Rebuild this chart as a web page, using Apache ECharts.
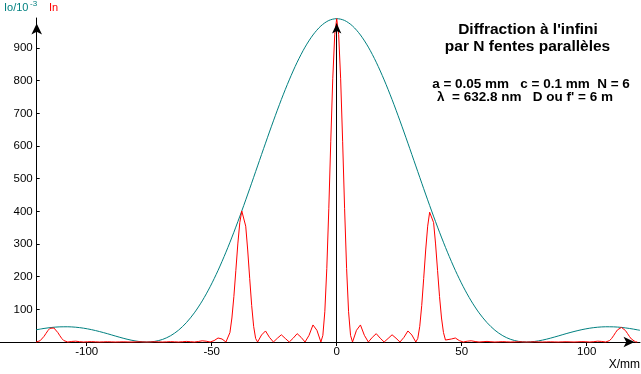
<!DOCTYPE html>
<html><head><meta charset="utf-8">
<script src="https://cdn.jsdelivr.net/npm/echarts@6/dist/echarts.min.js"></script>
<style>html,body{margin:0;padding:0;background:#fff}#c{width:641px;height:374px}</style>
</head><body><div id="c"></div>
<script>
// X positions (mm) and intensity In (red curve)
const xIn = [
 -120.24,-119.45,-118.65,-117.86,-117.07,-116.28,-115.49,-114.70,-113.90,-113.12,-112.32,-111.53,-110.74,-109.95,-109.16,-108.37,-107.58,
 -105.99,-104.41,-102.83,-101.25,-99.67,-98.08,-96.50,-94.92,-93.34,-91.76,-90.17,-88.59,-87.01,-85.43,-83.85,-82.26,-80.68,-79.10,-77.52,
 -75.94,-74.35,-72.77,-71.19,-69.61,-68.03,-66.44,-64.86,-63.28,-61.70,-60.12,-58.54,-56.95,-55.37,-53.79,-52.21,-50.62,-49.04,-47.46,-45.88,
 -44.30,-43.51,-42.71,-41.92,-41.13,-40.34,-39.55,-38.76,-37.97,-37.18,-36.39,-35.60,-34.80,-34.01,-33.22,-32.43,-31.64,
 -30.06,-28.48,-26.89,-25.31,-23.73,-22.15,-20.57,-18.98,-17.40,-15.82,-14.24,-12.66,-11.07,-9.49,-7.91,
 -6.33,-5.54,-4.75,-3.96,-3.16,-2.37,-1.58,-0.79,
 0,
 0.79,1.58,2.37,3.16,3.96,4.75,5.54,6.33,
 7.91,9.49,11.07,12.66,14.24,15.82,17.40,18.98,20.57,22.15,23.73,25.31,26.89,28.48,30.06,
 31.64,32.43,33.22,34.01,34.80,35.60,36.39,37.18,37.97,38.76,39.55,40.34,41.13,41.92,42.71,43.51,44.30,
 45.88,47.46,49.04,50.62,52.21,53.79,55.37,56.95,58.54,60.12,61.70,63.28,64.86,66.44,68.03,69.61,71.19,72.77,74.35,75.94,
 77.52,79.10,80.68,82.26,83.85,85.43,87.01,88.59,90.17,91.76,93.34,94.92,96.50,98.08,99.67,101.25,102.83,104.41,105.99,
 107.58,108.37,109.16,109.95,110.74,111.53,112.32,113.12,113.90,114.70,115.49,116.28,117.07,117.86,118.65,119.45,120.24
];
const In = [
 0,0.8,3.8,9.3,17.2,26.4,35.2,41.8,44.6,42.9,37.2,28.7,19.2,10.7,4.4,1.0,0,
 1.7,2.5,1.0,0,0.7,1.1,0.5,0,0.4,0.8,0.4,0,0.3,0.6,0.3,0,0.3,0.7,0.3,
 0,0.4,0.8,0.4,0,0.5,1.1,0.6,0,0.8,1.8,1.0,0,1.5,3.7,2.4,0,4.3,12.2,9.2,
 0,6.0,28.9,73.5,139.4,219.3,300.2,365.6,401.2,397.4,354.6,281.7,194.6,111.7,47.8,10.8,0,
 21.5,33.8,14.2,0,11.6,22.1,10.9,0,11.7,25.5,14.3,0,20.4,52.2,35.8,
 0,20.2,92.7,225.2,408.2,614.7,805.9,940.8,
 990,
 940.8,805.9,614.7,408.2,225.2,92.7,20.2,0,
 35.8,52.2,20.4,0,14.3,25.5,11.7,0,10.9,22.1,11.6,0,14.2,33.8,21.5,
 0,10.8,47.8,111.7,194.6,281.7,354.6,397.4,401.2,365.6,300.2,219.3,139.4,73.5,28.9,6.0,0,
 9.2,12.2,4.3,0,2.4,3.7,1.5,0,1.0,1.8,0.8,0,0.6,1.1,0.5,0,0.4,0.8,0.4,0,
 0.3,0.7,0.3,0,0.3,0.6,0.3,0,0.4,0.8,0.4,0,0.5,1.1,0.7,0,1.0,2.5,1.7,
 0,1.0,4.4,10.7,19.2,28.7,37.2,42.9,44.6,41.8,35.2,26.4,17.2,9.3,3.8,0.8,0
];
// Envelope Io/10^-3 (teal curve)
const xIo = [
 -120.24,-117.07,-113.90,-110.74,-107.58,-104.41,-101.25,-98.08,-94.92,-91.76,-88.59,-85.43,-82.26,-79.10,
 -75.94,-72.77,-69.61,-66.44,-63.28,-60.12,-56.95,-53.79,-50.62,-47.46,-44.30,-41.13,-37.97,-34.80,-31.64,
 -28.48,-25.31,-22.15,-18.98,-15.82,-12.66,-9.49,-6.33,-3.16,0,
 3.16,6.33,9.49,12.66,15.82,18.98,22.15,25.31,28.48,
 31.64,34.80,37.97,41.13,44.30,47.46,50.62,53.79,56.95,60.12,63.28,66.44,69.61,72.77,75.94,
 79.10,82.26,85.43,88.59,91.76,94.92,98.08,101.25,104.41,107.58,110.74,113.90,117.07,120.24,121.30
];
const Io = [
 37.3,41.5,44.6,46.4,46.6,45.3,42.3,37.8,32.1,25.5,18.4,11.6,5.7,1.6,
 0,1.9,8.0,19.2,36.1,59.3,89.2,125.8,169.3,219.2,275.0,336.1,401.2,469.4,539.1,
 608.8,677.1,742.2,802.5,856.5,902.8,940.1,967.6,984.4,990,
 984.4,967.6,940.1,902.8,856.5,802.5,742.2,677.1,608.8,
 539.1,469.4,401.2,336.1,275.0,219.2,169.3,125.8,89.2,59.3,36.1,19.2,8.0,1.9,0,
 1.6,5.7,11.6,18.4,25.5,32.1,37.8,42.3,45.3,46.6,46.4,44.6,41.5,37.3,35.8
];
const xTicks = [-100, -50, 0, 50, 100];
const yTicks = [100, 200, 300, 400, 500, 600, 700, 800, 900];

const FONT = "'Liberation Sans', Arial, sans-serif";
const chart = echarts.init(document.getElementById('c'), null, {renderer: 'canvas'});
chart.setOption({
  animation: false,
  backgroundColor: '#fff',
  textStyle: {fontFamily: FONT},
  grid: {left: 0, right: 1, top: 18, bottom: 32, containLabel: false},
  xAxis: {
    type: 'value', min: -134.68, max: 121.32,
    axisLine: {show: true, onZero: false, lineStyle: {color: '#000', width: 1},
      symbol: ['none', 'arrow'], symbolSize: [8, 11], symbolOffset: [0, -5.5]},
    axisTick: {show: true, customValues: xTicks, length: 4, lineStyle: {color: '#000'}},
    axisLabel: {customValues: xTicks, color: '#000', fontSize: 11.5, fontFamily: FONT, margin: 4},
    splitLine: {show: false}
  },
  yAxis: {
    type: 'value', min: 0, max: 992, position: 'left', offset: -36.7,
    axisLine: {show: true, onZero: false, lineStyle: {color: '#000', width: 1},
      symbol: ['none', 'arrow'], symbolSize: [8, 11], symbolOffset: [0, -5.5]},
    axisTick: {show: true, inside: true, customValues: yTicks, length: 3, lineStyle: {color: '#000'}},
    axisLabel: {customValues: yTicks, color: '#000', fontSize: 11.5, fontFamily: FONT, margin: 4},
    splitLine: {show: false}
  },
  series: [
    {
      name: 'Io', type: 'line', showSymbol: false, smooth: 0.3, clip: false,
      lineStyle: {color: '#008080', width: 1}, itemStyle: {color: '#008080'},
      data: xIo.map((x, i) => [x, Io[i]])
    },
    {
      name: 'In', type: 'line', showSymbol: false, clip: false,
      lineStyle: {color: '#ff0000', width: 1}, itemStyle: {color: '#ff0000'},
      data: xIn.map((x, i) => [x, In[i]]),
      markLine: {
        silent: true, symbol: ['none', 'arrow'], symbolSize: [7, 10],
        lineStyle: {color: '#000', type: 'solid', width: 1},
        label: {show: false}, emphasis: {disabled: true},
        data: [[{coord: [0, 0]}, {coord: [0, 975]}]]
      }
    }
  ],
  graphic: [
    {type: 'text', x: 4, y: 7.5, style: {text: 'Io/10', fill: '#008080', font: '11px ' + FONT, textVerticalAlign: 'middle'}},
    {type: 'text', x: 30, y: 3.5, style: {text: '-3', fill: '#008080', font: '8px ' + FONT, textVerticalAlign: 'middle'}},
    {type: 'text', x: 49, y: 7.5, style: {text: 'In', fill: '#ff0000', font: '11px ' + FONT, textVerticalAlign: 'middle'}},
    {type: 'text', x: 528, y: 30, style: {text: "Diffraction à l'infini", fill: '#000', font: 'bold 15.5px ' + FONT, textAlign: 'center', textVerticalAlign: 'middle'}},
    {type: 'text', x: 527.5, y: 46.5, style: {text: 'par N fentes parallèles', fill: '#000', font: 'bold 15.5px ' + FONT, textAlign: 'center', textVerticalAlign: 'middle'}},
    {type: 'text', x: 531, y: 84, style: {text: 'a = 0.05 mm   c = 0.1 mm  N = 6', fill: '#000', font: 'bold 13.5px ' + FONT, textAlign: 'center', textVerticalAlign: 'middle'}},
    {type: 'text', x: 525, y: 97, style: {text: "λ  = 632.8 nm   D ou f' = 6 m", fill: '#000', font: 'bold 13.5px ' + FONT, textAlign: 'center', textVerticalAlign: 'middle'}},
    {type: 'text', x: 640, y: 365, style: {text: 'X/mm', fill: '#000', font: '12px ' + FONT, textAlign: 'right', textVerticalAlign: 'middle'}}
  ]
});
</script>
</body></html>
